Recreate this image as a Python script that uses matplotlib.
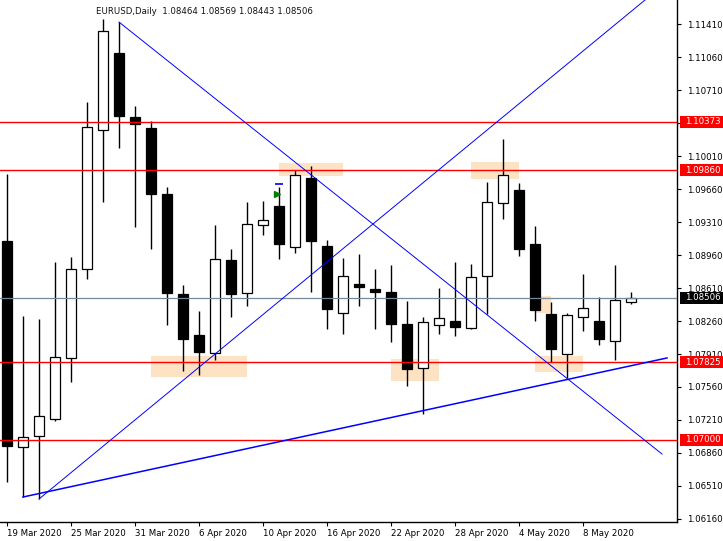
import matplotlib
matplotlib.use("Agg")
import matplotlib.pyplot as plt
from matplotlib.patches import Rectangle
from matplotlib.transforms import blended_transform_factory

# ---------------- data ----------------
dates = ["19 Mar 2020", "20 Mar 2020", "23 Mar 2020", "24 Mar 2020", "25 Mar 2020",
         "26 Mar 2020", "27 Mar 2020", "30 Mar 2020", "31 Mar 2020", "1 Apr 2020",
         "2 Apr 2020", "3 Apr 2020", "6 Apr 2020", "7 Apr 2020", "8 Apr 2020",
         "9 Apr 2020", "10 Apr 2020", "13 Apr 2020", "14 Apr 2020", "15 Apr 2020",
         "16 Apr 2020", "17 Apr 2020", "20 Apr 2020", "21 Apr 2020", "22 Apr 2020",
         "23 Apr 2020", "24 Apr 2020", "27 Apr 2020", "28 Apr 2020", "29 Apr 2020",
         "30 Apr 2020", "1 May 2020", "4 May 2020", "5 May 2020", "6 May 2020",
         "7 May 2020", "8 May 2020", "11 May 2020", "12 May 2020", "13 May 2020"]

opens = [1.09109, 1.06924, 1.07040, 1.07221, 1.07868, 1.08812, 1.10286, 1.11102, 1.10424, 1.10307,
         1.09607, 1.08546, 1.08112, 1.07921, 1.08907, 1.08557, 1.09278, 1.09480, 1.09045, 1.09777,
         1.09056, 1.08345, 1.08652, 1.08599, 1.08568, 1.08228, 1.07762, 1.08218, 1.08260, 1.08186,
         1.08737, 1.09512, 1.09649, 1.09077, 1.08334, 1.07910, 1.08302, 1.08260, 1.08048, 1.08464]
highs = [1.09819, 1.08313, 1.08281, 1.08886, 1.08939, 1.10583, 1.11463, 1.11431, 1.10540, 1.10381,
         1.09681, 1.08642, 1.08366, 1.09278, 1.09024, 1.09522, 1.09533, 1.09681, 1.09862, 1.09904,
         1.09119, 1.08928, 1.08971, 1.08812, 1.08854, 1.08472, 1.08302, 1.08610, 1.08886, 1.08865,
         1.09734, 1.10190, 1.09724, 1.09268, 1.08462, 1.08345, 1.08759, 1.08515, 1.08854, 1.08569]
lows = [1.06553, 1.06393, 1.06372, 1.07199, 1.07613, 1.08706, 1.09522, 1.10095, 1.09257, 1.09024,
        1.08218, 1.07730, 1.07687, 1.07846, 1.08302, 1.08419, 1.09172, 1.08918, 1.08981, 1.08568,
        1.08175, 1.08122, 1.08419, 1.08175, 1.08037, 1.07571, 1.07274, 1.08122, 1.08101, 1.08175,
        1.08334, 1.09342, 1.08949, 1.08260, 1.07825, 1.07656, 1.08154, 1.08006, 1.07846, 1.08443]
closes = [1.06934, 1.07030, 1.07252, 1.07878, 1.08812, 1.10318, 1.11336, 1.10434, 1.10349, 1.09607,
          1.08557, 1.08069, 1.07931, 1.08918, 1.08546, 1.09289, 1.09331, 1.09077, 1.09809, 1.09109,
          1.08387, 1.08737, 1.08621, 1.08568, 1.08228, 1.07751, 1.08249, 1.08292, 1.08196, 1.08727,
          1.09522, 1.09809, 1.09024, 1.08377, 1.07963, 1.08324, 1.08398, 1.08069, 1.08483, 1.08506]

date_tick_index = [0, 4, 8, 12, 16, 20, 24, 28, 32, 36]
price_ticks = [1.06160, 1.06510, 1.06860, 1.07210, 1.07560, 1.07910, 1.08260, 1.08610,
               1.08960, 1.09310, 1.09660, 1.10010, 1.10360, 1.10710, 1.11060, 1.11410]
hidden_tick_labels = [1.10360]   # covered by the 1.10373 marker in the reference

red_levels = [1.10373, 1.09860, 1.07825, 1.07000]
bid_level = 1.08506
title_text = "EURUSD,Daily  1.08464 1.08569 1.08443 1.08506"

# trendlines: (start index, start price, end index, end price)
trend_x0 = [7, 2, 1]
trend_y0 = [1.11431, 1.06372, 1.06393]
trend_x1 = [40.94, 39.875, 41.25]
trend_y1 = [1.06849, 1.11665, 1.07868]

# zones: index range and price range
zone_x0 = [17, 29, 9, 24, 33, 33]
zone_x1 = [21, 32, 15, 27, 36, 34]
zone_lo = [1.09798, 1.09766, 1.07666, 1.07624, 1.07719, 1.08345]
zone_hi = [1.09936, 1.09946, 1.07889, 1.07857, 1.07889, 1.08525]

# small signal marks on 13 Apr
arrow_idx, arrow_price = 16.85, 1.09607
dash_idx, dash_price = 17.0, 1.09713

# ---------------- drawing ----------------
plt.rcParams['font.family'] = ['DejaVu Sans']
plt.rcParams['font.size'] = 6

W, H = 723, 541
fig = plt.figure(figsize=(W / 100, H / 100), dpi=100)
ax_right_px, ax_bottom_px = 677, 522
ax = fig.add_axes([0, (H - ax_bottom_px) / H, ax_right_px / W, ax_bottom_px / H])
ax.set_facecolor("white")

ax.set_xlim(-0.4375, 41.875)
ax.set_ylim(1.06128, 1.11665)

# zones (background)
for x0, x1, lo, hi in zip(zone_x0, zone_x1, zone_lo, zone_hi):
    ax.add_patch(Rectangle((x0, lo), x1 - x0, hi - lo, facecolor="#FDE2C4",
                           edgecolor="none", zorder=0.5))

# candles
xs = list(range(len(opens)))
ax.vlines(xs, lows, highs, color="black", linewidth=1.0, zorder=2)
bw = 0.6
for x, o, c in zip(xs, opens, closes):
    bull = c >= o
    bottom = min(o, c)
    h = max(abs(c - o), 0.00005)
    ax.add_patch(Rectangle((x - bw / 2, bottom), bw, h,
                           facecolor="white" if bull else "black",
                           edgecolor="black", linewidth=0.9, zorder=3))

# horizontal levels
for lv in red_levels:
    ax.axhline(lv, color="#FF0000", linewidth=1.0, zorder=4)
ax.axhline(bid_level, color="#778899", linewidth=0.9, zorder=4)

# trendlines
widths = [0.7, 0.7, 1.1]
for x0, y0, x1, y1, lw in zip(trend_x0, trend_y0, trend_x1, trend_y1, widths):
    ax.plot([x0, x1], [y0, y1], color="#0000FF", linewidth=lw, zorder=5)

# signal marks
ax.plot([arrow_idx], [arrow_price], marker=">", color="#008000", markersize=4, zorder=6)
ax.plot([dash_idx], [dash_price], marker="_", color="#0000FF", markersize=6,
        markeredgewidth=1.2, zorder=6)

# axes styling
for s in ["top", "left"]:
    ax.spines[s].set_visible(False)
for s in ["right", "bottom"]:
    ax.spines[s].set_color("black")
    ax.spines[s].set_linewidth(1.0)

ax.yaxis.tick_right()
ax.set_yticks(price_ticks)
ax.set_yticklabels(["" if p in hidden_tick_labels else f"{p:.5f}" for p in price_ticks])
ax.tick_params(axis="y", direction="out", length=3, width=0.8, pad=4, labelsize=6.2,
               colors="black")
ax.set_xticks(date_tick_index)
ax.set_xticklabels([dates[i] for i in date_tick_index])
ax.tick_params(axis="x", direction="out", length=3, width=0.8, pad=2, labelsize=6.2,
               colors="black")
for lab in ax.get_xticklabels():
    lab.set_horizontalalignment("left")

# right-side price labels
tr = blended_transform_factory(ax.transAxes, ax.transData)
box_h = 12 * (1.11665 - 1.06128) / ax_bottom_px
for lv, fc in [(l, "#FF0000") for l in red_levels] + [(bid_level, "black")]:
    ax.add_patch(Rectangle((1.004, lv - box_h / 2), 0.064, box_h, transform=tr,
                           facecolor=fc, edgecolor="none", clip_on=False, zorder=10))
    ax.text(1.0115, lv, f"{lv:.5f}", transform=tr, ha="left", va="center",
            color="white", fontsize=6.2, clip_on=False, zorder=11)

fig.text(96 / W, 1 - 11 / H, title_text, ha="left", va="center", fontsize=6.2, color="#111111")

fig.savefig("out.png", dpi=100, facecolor="white")
